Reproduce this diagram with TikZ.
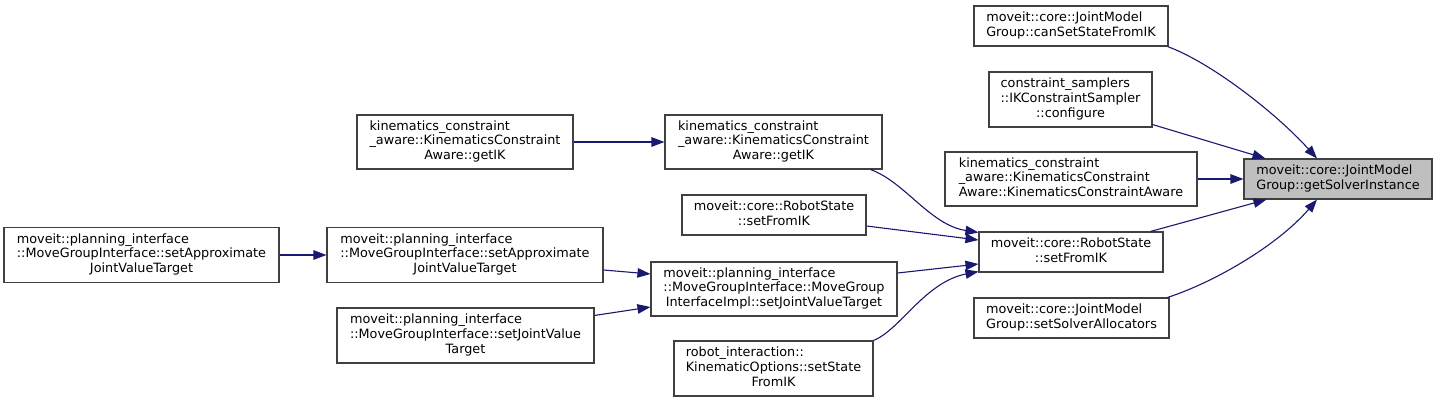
\documentclass[tikz,border=0pt]{standalone}
\usepackage{fontspec}
\setmainfont{DejaVu Sans}
\usetikzlibrary{arrows.meta}
\definecolor{edgec}{HTML}{191970}
\definecolor{boxc}{HTML}{404040}
\definecolor{hl}{HTML}{BFBFBF}
\newcommand\dlab[2]{\begin{tabular}{@{}l@{}}#1\\\multicolumn{1}{@{}c@{}}{#2}\end{tabular}}
\begin{document}
\begin{tikzpicture}[x=1pt,y=1pt,
  font=\fontsize{12.8}{14.6}\selectfont,
  box/.style={draw=boxc,line width=1.1pt,fill=white,inner sep=0pt},
  edge/.style={draw=edgec,line width=1.1pt,-{Triangle[length=13pt,width=9.5pt]}}]
\useasboundingbox (0,0) rectangle (1437,-402);

\node[box,fill=hl,minimum width=188pt,minimum height=40pt] (gsi) at (1338,-179) {\dlab{moveit::core::JointModel}{Group::getSolverInstance}};
\node[box,minimum width=194pt,minimum height=40pt] (can) at (1071,-26) {\dlab{moveit::core::JointModel}{Group::canSetStateFromIK}};
\node[box,minimum width=163pt,minimum height=55pt] (conf) at (1070.5,-99.5) {\dlab{constraint\_samplers\\::IKConstraintSampler}{::configure}};
\node[box,minimum width=252pt,minimum height=54pt] (kca) at (1071,-179) {\dlab{kinematics\_constraint\\\_aware::KinematicsConstraint}{Aware::KinematicsConstraintAware}};
\node[box,minimum width=184pt,minimum height=40pt] (sfr) at (1071,-252) {\dlab{moveit::core::RobotState}{::setFromIK}};
\node[box,minimum width=195pt,minimum height=40pt] (ssa) at (1071.5,-318) {\dlab{moveit::core::JointModel}{Group::setSolverAllocators}};
\node[box,minimum width=217pt,minimum height=54pt] (gikm) at (773.5,-142) {\dlab{kinematics\_constraint\\\_aware::KinematicsConstraint}{Aware::getIK}};
\node[box,minimum width=216pt,minimum height=54pt] (gikl) at (465,-142) {\dlab{kinematics\_constraint\\\_aware::KinematicsConstraint}{Aware::getIK}};
\node[box,minimum width=184pt,minimum height=40pt] (sfm) at (774,-215) {\dlab{moveit::core::RobotState}{::setFromIK}};
\node[box,minimum width=276pt,minimum height=55pt] (sam) at (465,-255) {\dlab{moveit::planning\_interface\\::MoveGroupInterface::setApproximate}{JointValueTarget}};
\node[box,minimum width=246pt,minimum height=54pt] (impl) at (774,-289) {\dlab{moveit::planning\_interface\\::MoveGroupInterface::MoveGroup}{InterfaceImpl::setJointValueTarget}};
\node[box,minimum width=257pt,minimum height=55pt] (sjv) at (465.5,-335.5) {\dlab{moveit::planning\_interface\\::MoveGroupInterface::setJointValue}{Target}};
\node[box,minimum width=199pt,minimum height=55pt] (ri) at (773.5,-368.5) {\dlab{robot\_interaction::\\KinematicOptions::setState}{FromIK}};
\node[box,minimum width=275pt,minimum height=55pt] (sal) at (141.5,-255) {\dlab{moveit::planning\_interface\\::MoveGroupInterface::setApproximate}{JointValueTarget}};

\draw[edge] ([xshift=-1pt]can.south east) .. controls (1210,-62) and (1275,-112) .. ([xshift=-21pt]gsi.north);
\draw[edge] ([yshift=3pt]conf.south east) -- ([xshift=22pt]gsi.north west);
\draw[edge] (kca.east) -- (gsi.west);
\draw[edge] ([xshift=-13pt]sfr.north east) -- ([xshift=23pt]gsi.south west);
\draw[edge] ([xshift=-2pt]ssa.north east) .. controls (1215,-282) and (1278,-245) .. ([xshift=-21pt]gsi.south);
\draw[edge] ([xshift=-12pt]gikm.south east) .. controls (905,-182) and (930,-225) .. ([yshift=-1pt]sfr.north west);
\draw[edge] ([yshift=-11pt]sfm.east) -- ([yshift=12pt]sfr.west);
\draw[edge] ([yshift=16pt]impl.east) -- ([yshift=-12pt]sfr.west);
\draw[edge] (ri.north east) .. controls (900,-330) and (925,-282) .. ([yshift=1pt]sfr.south west);
\draw[edge] (gikl.east) -- (gikm.west);
\draw[edge] (sal.east) -- (sam.west);
\draw[edge] ([yshift=-15pt]sam.east) -- ([yshift=15pt]impl.west);
\draw[edge] ([yshift=-8pt]sjv.north east) -- ([yshift=-18pt]impl.west);
\end{tikzpicture}
\end{document}
